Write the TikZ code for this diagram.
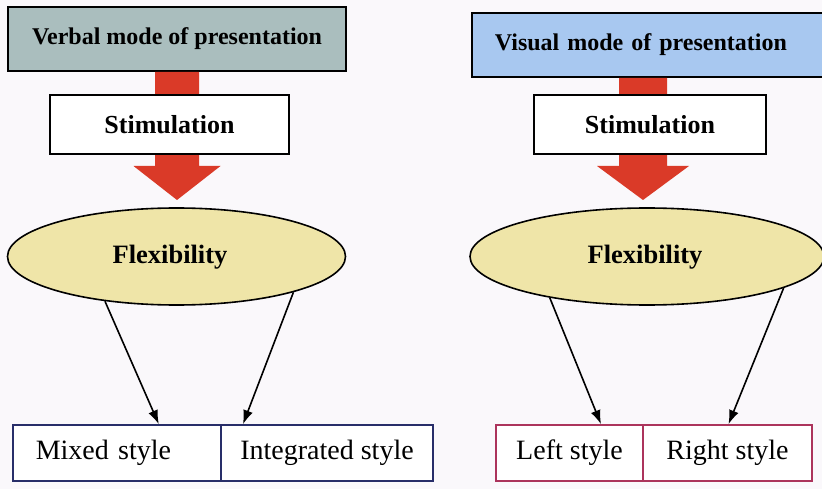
\documentclass[tikz,border=0pt]{standalone}
\usepackage{fontspec}
\setmainfont{Liberation Serif}
\usetikzlibrary{calc,shapes.geometric,arrows.meta}

\definecolor{paper}{RGB}{250,248,251}
\definecolor{verbalfill}{RGB}{170,190,190}
\definecolor{visualfill}{RGB}{168,200,240}
\definecolor{flexfill}{RGB}{239,229,168}
\definecolor{blockred}{RGB}{218,58,40}
\definecolor{navyline}{RGB}{40,46,105}
\definecolor{roseline}{RGB}{172,52,92}

\tikzset{
  headbox/.style={draw=black, line width=1.8pt, rectangle, minimum height=64pt,
    font=\bfseries\fontsize{24}{28}\selectfont, inner sep=0pt},
  stimbox/.style={draw=black, line width=1.9pt, fill=white, rectangle,
    minimum height=59pt, font=\bfseries\fontsize{26}{30}\selectfont, inner sep=0pt},
  flexell/.style={draw=black, line width=1.6pt, fill=flexfill, ellipse,
    minimum height=97pt, inner sep=0pt},
  flextext/.style={font=\bfseries\fontsize{26.5}{30}\selectfont, inner sep=0pt},
  stylebox/.style={rectangle, line width=1.6pt, fill=white, minimum height=56pt,
    font=\fontsize{28}{32}\selectfont, inner sep=0pt},
  thinarrow/.style={draw=black, line width=1.6pt, -{Latex[length=14pt,width=10pt]}},
}

% thick red block arrow: #1 start anchor, #2 tip, #3 half shaft width, #4 half head width
\newcommand\blockarrow[4]{%
  \fill[blockred] ($(#1 -| #2)+(-#3,0)$) -- ($(#1 -| #2)+(#3,0)$)
    -- ($(#2)+(#3,-34)$) -- ($(#2)+(#4,-34)$) -- (#2)
    -- ($(#2)+(-#4,-34)$) -- ($(#2)+(-#3,-34)$) -- cycle;}

\begin{document}
\begin{tikzpicture}[x=1pt, y=-1pt]
  \useasboundingbox (0,0) rectangle (822,489);
  \fill[paper] (0,0) rectangle (822,489);

  % ---------- verbal branch ----------
  \node[headbox, fill=verbalfill, minimum width=338pt] (verbal) at (177,39)
    {Verbal mode of presentation};
  \node[flexell, minimum width=338pt] (ellL) at (176.5,256.5) {};
  \coordinate (tipL) at (177,200);
  \blockarrow{verbal.south}{tipL}{22}{43.5}
  \node[stimbox, minimum width=239pt] (stimL) at (169.5,124.5) {Stimulation};
  \node[flextext] (flexL) at (170,257) {Flexibility};

  \node[stylebox, draw=navyline, anchor=west, text width=163pt, inner xsep=23pt,
    align=left] (mixed) at (12,453) {Mixed style};
  \node[stylebox, draw=navyline, minimum width=212pt] (integ) at (327,453)
    {Integrated style};

  \draw[thinarrow] (ellL.212) -- ([xshift=41.5pt]mixed.north);
  \draw[thinarrow] (ellL.-17) -- ([xshift=-84pt]integ.north);

  % ---------- visual branch ----------
  \node[headbox, fill=visualfill, anchor=west, text width=313pt, inner xsep=23pt,
    align=left] (visual) at (471,45) {Visual mode of presentation};
  \node[flexell, minimum width=354pt] (ellR) at (647,256.5) {};
  \coordinate (tipR) at (643,200);
  \blockarrow{visual.south}{tipR}{24}{46}
  \node[stimbox, minimum width=232pt] (stimR) at (650,124.5) {Stimulation};
  \node[flextext] (flexR) at (645,257) {Flexibility};

  \node[stylebox, draw=roseline, minimum width=147pt] (lefts) at (569.5,453)
    {Left style};
  \node[stylebox, draw=roseline, minimum width=169pt] (rights) at (727.5,453)
    {Right style};

  \draw[thinarrow] (ellR.203) -- ([xshift=31.5pt]lefts.north);
  \draw[thinarrow] (ellR.-13) -- ([xshift=1pt]rights.north);
\end{tikzpicture}
\end{document}
